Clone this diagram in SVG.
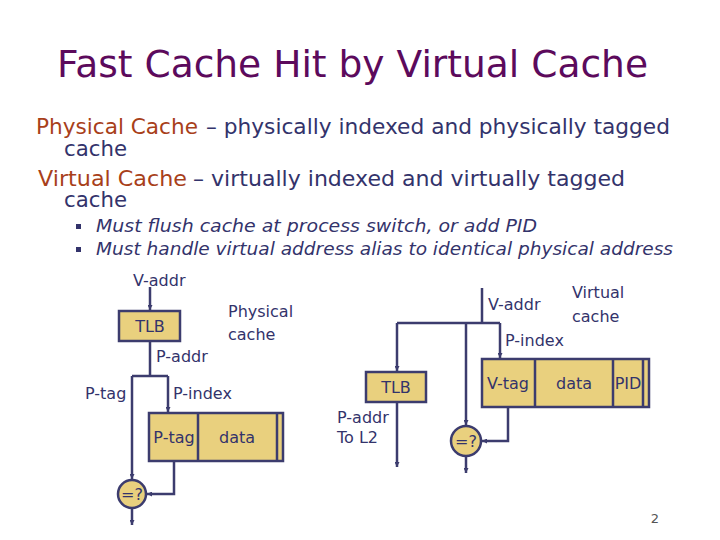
<svg xmlns="http://www.w3.org/2000/svg" width="720" height="540" viewBox="0 0 720 540">
<defs>
<marker id="arr" viewBox="0 0 10 10" refX="10" refY="5" markerWidth="5" markerHeight="5" orient="auto" markerUnits="userSpaceOnUse">
<path d="M0,0 L10,5 L0,10 z" fill="#3c3c6e"/>
</marker>
<style>
.title{font-family:"DejaVu Sans",sans-serif;font-size:38px;fill:#5c0a5c}
.body{font-family:"DejaVu Sans",sans-serif;font-size:21px;fill:#33336b}
.hl{font-family:"DejaVu Sans",sans-serif;font-size:21px;fill:#a8401a}
.bul{font-family:"DejaVu Sans",sans-serif;font-size:17px;font-style:italic;fill:#33336b}
.lbl{font-family:"DejaVu Sans",sans-serif;font-size:16px;fill:#33336b}
.box{fill:#e9d07e;stroke:#3c3c6e;stroke-width:2.5}
.ln{fill:none;stroke:#3c3c6e;stroke-width:2.5}
.wire{fill:none;stroke:#3c3c6e;stroke-width:2.5;marker-end:url(#arr)}
</style>
</defs>
<rect width="720" height="540" fill="#ffffff"/>
<text class="title" x="57" y="77" textLength="591" lengthAdjust="spacingAndGlyphs">Fast Cache Hit by Virtual Cache</text>
<text class="hl" x="36" y="134" textLength="162" lengthAdjust="spacingAndGlyphs">Physical Cache</text>
<text class="body" x="206" y="134" textLength="464" lengthAdjust="spacingAndGlyphs">– physically indexed and physically tagged</text>
<text class="body" x="64" y="156" textLength="63" lengthAdjust="spacingAndGlyphs">cache</text>
<text class="hl" x="38" y="186" textLength="149" lengthAdjust="spacingAndGlyphs">Virtual Cache</text>
<text class="body" x="193" y="186" textLength="432" lengthAdjust="spacingAndGlyphs">– virtually indexed and virtually tagged</text>
<text class="body" x="64" y="207" textLength="63" lengthAdjust="spacingAndGlyphs">cache</text>
<rect x="76" y="224" width="5" height="5" fill="#33336b"/>
<rect x="76" y="247" width="5" height="5" fill="#33336b"/>
<text class="bul" x="96" y="232" textLength="441" lengthAdjust="spacingAndGlyphs">Must flush cache at process switch, or add PID</text>
<text class="bul" x="96" y="255" textLength="577" lengthAdjust="spacingAndGlyphs">Must handle virtual address alias to identical physical address</text>

<g id="connectors">
<path class="wire" d="M150,287 V310"/>
<path class="ln" d="M150,341 V376 M132,376 H168"/>
<path class="wire" d="M132,376 V479"/>
<path class="wire" d="M168,376 V412"/>
<path class="wire" d="M174,461 V494 H147"/>
<path class="wire" d="M132,508 V525"/>
<path class="ln" d="M482,288 V323 M397,323 H500"/>
<path class="wire" d="M397,323 V371"/>
<path class="wire" d="M466,323 V425"/>
<path class="wire" d="M500,323 V358"/>
<path class="wire" d="M397,402 V467"/>
<path class="wire" d="M508,407 V441 H482"/>
<path class="wire" d="M466,456 V473"/>
</g>

<g id="labels">
<text class="lbl" x="133" y="286">V-addr</text>
<text class="lbl" x="156" y="362">P-addr</text>
<text class="lbl" x="85" y="399">P-tag</text>
<text class="lbl" x="173" y="399">P-index</text>
<text class="lbl" x="228" y="317">Physical</text>
<text class="lbl" x="228" y="340">cache</text>
<text class="lbl" x="488" y="310">V-addr</text>
<text class="lbl" x="505" y="346">P-index</text>
<text class="lbl" x="572" y="298">Virtual</text>
<text class="lbl" x="572" y="322">cache</text>
<text class="lbl" x="337" y="423">P-addr</text>
<text class="lbl" x="337" y="443">To L2</text>
</g>

<g id="tlb-physical">
<rect class="box" x="119" y="311" width="61" height="30"/>
<text class="lbl" x="150" y="332" text-anchor="middle">TLB</text>
</g>
<g id="cache-physical">
<rect class="box" x="149" y="413" width="134" height="48"/>
<path class="ln" d="M198,413 V461 M277,413 V461"/>
<text class="lbl" x="174" y="443" text-anchor="middle">P-tag</text>
<text class="lbl" x="237" y="443" text-anchor="middle">data</text>
</g>
<g id="cmp-physical">
<circle class="box" cx="132" cy="494" r="14"/>
<text class="lbl" x="132" y="500" text-anchor="middle">=?</text>
</g>

<g id="tlb-virtual">
<rect class="box" x="366" y="372" width="60" height="30"/>
<text class="lbl" x="396" y="393" text-anchor="middle">TLB</text>
</g>
<g id="cache-virtual">
<rect class="box" x="482" y="359" width="167" height="48"/>
<path class="ln" d="M535,359 V407 M613,359 V407 M643,359 V407"/>
<text class="lbl" x="508" y="389" text-anchor="middle">V-tag</text>
<text class="lbl" x="574" y="389" text-anchor="middle">data</text>
<text class="lbl" x="628" y="389" text-anchor="middle">PID</text>
</g>
<g id="cmp-virtual">
<circle class="box" cx="466" cy="441" r="15"/>
<text class="lbl" x="466" y="447" text-anchor="middle">=?</text>
</g>

<text x="655" y="523" font-family="DejaVu Sans, sans-serif" font-size="13" fill="#555555" text-anchor="middle">2</text>
</svg>
